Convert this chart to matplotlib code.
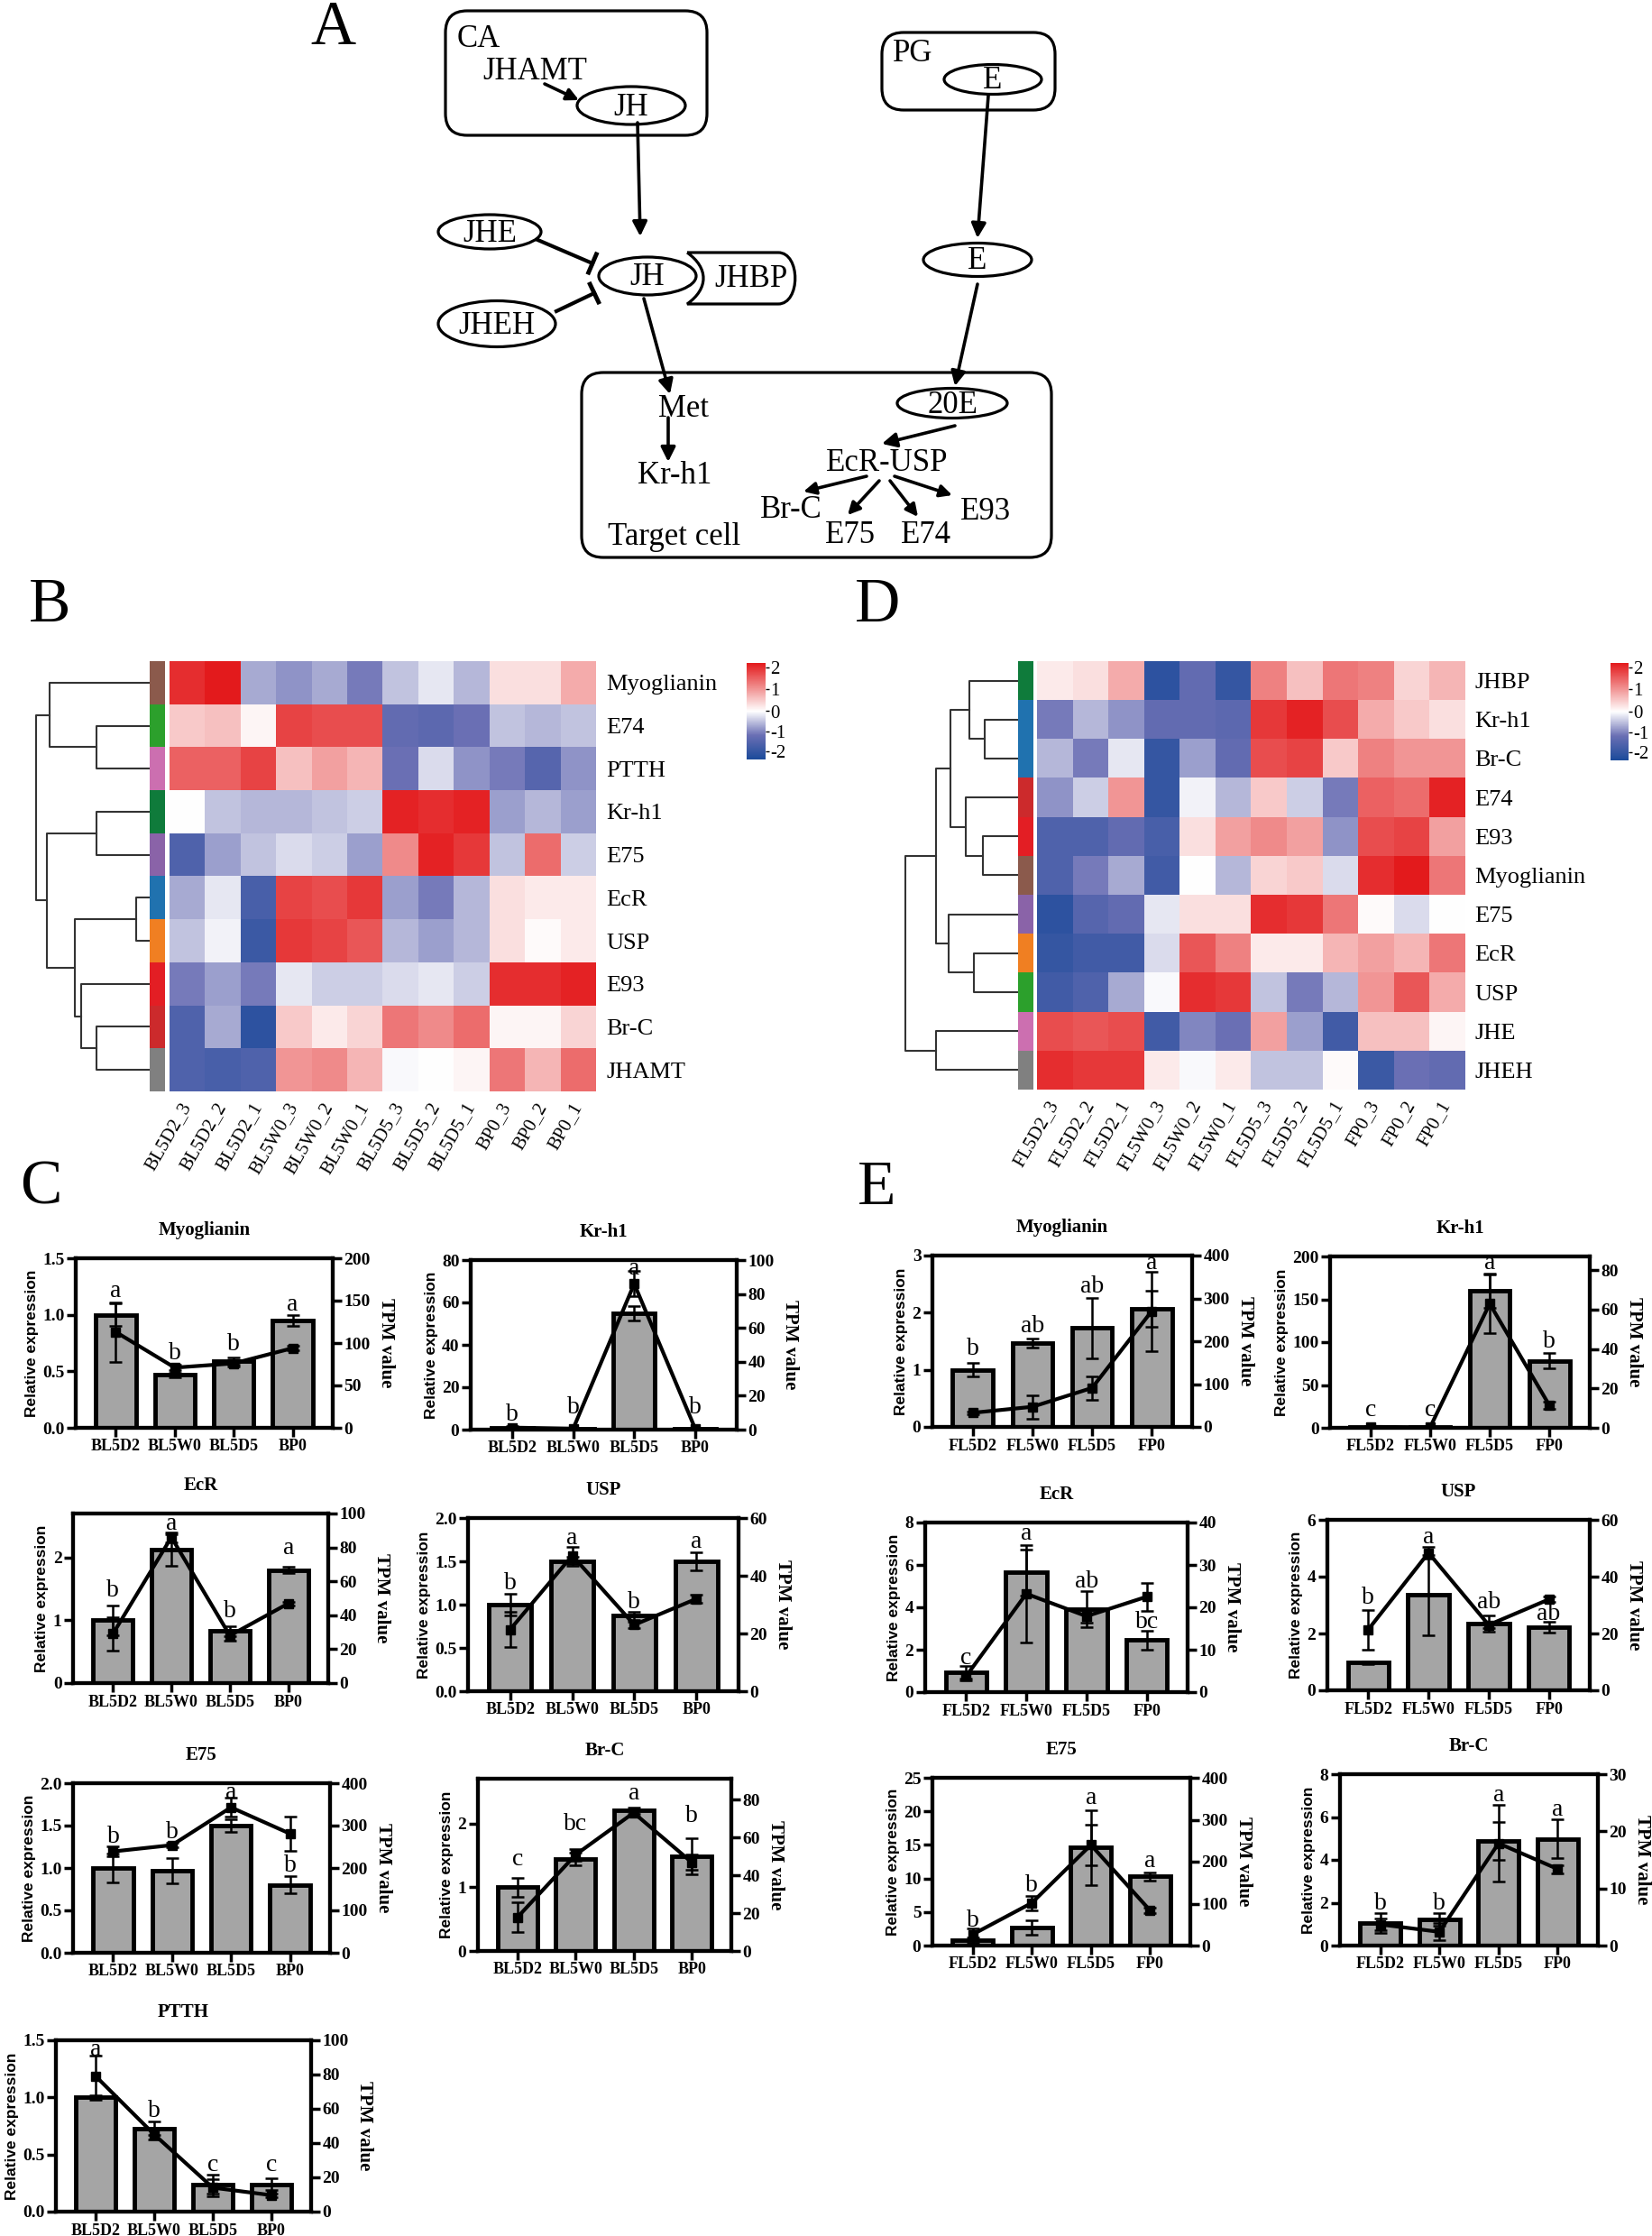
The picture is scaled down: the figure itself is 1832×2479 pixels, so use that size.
import numpy as np
import matplotlib
matplotlib.use('Agg')
import matplotlib.pyplot as plt
from matplotlib.patches import Ellipse, FancyBboxPatch, PathPatch
from matplotlib.path import Path
from matplotlib.colors import LinearSegmentedColormap, TwoSlopeNorm

W, H = 1832, 2479
SERIF = 'Liberation Serif'
SANS = 'Liberation Sans'
plt.rcParams['font.family'] = [SERIF, 'DejaVu Serif']

#############################################################################################
# heatmap B (z-scores)
b_genes = ['Myoglianin', 'E74', 'PTTH', 'Kr-h1', 'E75', 'EcR', 'USP', 'E93', 'Br-C', 'JHAMT']
b_samples = ['BL5D2_3', 'BL5D2_2', 'BL5D2_1', 'BL5W0_3', 'BL5W0_2', 'BL5W0_1',
             'BL5D5_3', 'BL5D5_2', 'BL5D5_1', 'BP0_3', 'BP0_2', 'BP0_1']
b_z = [[2.0, 2.2, -0.7, -0.9, -0.7, -1.1, -0.5, -0.2, -0.6, 0.3, 0.3, 0.8],
       [0.5, 0.6, 0.1, 1.8, 1.7, 1.7, -1.3, -1.4, -1.2, -0.5, -0.6, -0.5],
       [1.5, 1.5, 1.8, 0.6, 0.9, 0.7, -1.2, -0.3, -0.9, -1.1, -1.5, -0.9],
       [0.0, -0.5, -0.6, -0.6, -0.5, -0.4, 2.1, 2.0, 2.1, -0.8, -0.6, -0.8],
       [-1.6, -0.8, -0.5, -0.3, -0.4, -0.8, 1.1, 2.1, 1.9, -0.5, 1.4, -0.4],
       [-0.7, -0.2, -1.7, 1.8, 1.7, 1.9, -0.8, -1.1, -0.6, 0.3, 0.2, 0.2],
       [-0.5, -0.1, -1.9, 1.9, 1.8, 1.6, -0.6, -0.8, -0.6, 0.3, 0.05, 0.2],
       [-1.1, -0.8, -1.1, -0.2, -0.4, -0.4, -0.3, -0.2, -0.4, 2.0, 2.0, 2.1],
       [-1.6, -0.7, -2.1, 0.5, 0.2, 0.4, 1.3, 1.1, 1.4, 0.1, 0.1, 0.4],
       [-1.6, -1.7, -1.6, 1.0, 1.1, 0.7, -0.05, 0.0, 0.1, 1.3, 0.7, 1.4]]
b_row_colors = ['#8b5a4c', '#2ca02c', '#cc6fb0', '#0f7b3b', '#8a63a8',
                '#2072af', '#f07f22', '#e31e24', '#cc2a2c', '#808080']
# (height, left, right), leaves are row indices
b_tree = (231, (203, 0, (108, 1, 2)), (208, (108, 3, 4), (151, (28, 5, 6), (138, 7, (108, 8, 9)))))

# heatmap D
d_genes = ['JHBP', 'Kr-h1', 'Br-C', 'E74', 'E93', 'Myoglianin', 'E75', 'EcR', 'USP', 'JHE', 'JHEH']
d_samples = ['FL5D2_3', 'FL5D2_2', 'FL5D2_1', 'FL5W0_3', 'FL5W0_2', 'FL5W0_1',
             'FL5D5_3', 'FL5D5_2', 'FL5D5_1', 'FP0_3', 'FP0_2', 'FP0_1']
d_z = [[0.2, 0.3, 0.8, -2.1, -1.3, -2.0, 1.2, 0.6, 1.3, 1.2, 0.4, 0.7],
       [-1.1, -0.6, -0.9, -1.3, -1.3, -1.4, 1.9, 2.1, 1.7, 0.8, 0.5, 0.3],
       [-0.6, -1.1, -0.2, -2.0, -0.8, -1.3, 1.7, 1.8, 0.5, 1.2, 1.0, 1.0],
       [-0.9, -0.4, 1.0, -2.0, -0.1, -0.6, 0.5, -0.4, -1.1, 1.5, 1.4, 2.1],
       [-1.6, -1.6, -1.3, -1.7, 0.3, 0.9, 1.1, 0.9, -0.9, 1.7, 1.8, 0.9],
       [-1.6, -1.1, -0.7, -1.8, 0.0, -0.6, 0.4, 0.5, -0.3, 2.0, 2.2, 1.3],
       [-2.1, -1.5, -1.3, -0.2, 0.3, 0.3, 2.0, 1.9, 1.3, 0.05, -0.3, 0.0],
       [-2.0, -1.8, -1.8, -0.3, 1.6, 1.2, 0.2, 0.2, 0.7, 0.9, 0.7, 1.3],
       [-1.8, -1.6, -0.7, -0.05, 2.0, 1.9, -0.5, -1.1, -0.6, 1.0, 1.6, 0.8],
       [1.7, 1.6, 1.7, -1.8, -1.0, -1.2, 0.9, -0.8, -1.8, 0.6, 0.6, 0.1],
       [2.0, 1.9, 1.9, 0.2, -0.05, 0.2, -0.5, -0.5, 0.05, -1.9, -1.2, -1.3]]
d_row_colors = ['#0f7b3b', '#2072af', '#2072af', '#cc2a2c', '#e31e24', '#8b5a4c',
                '#8a63a8', '#f07f22', '#2ca02c', '#cc6fb0', '#808080']
d_tree = (221, (160, (133, (96, 0, (65, 1, 2)), (103, 3, (68, 4, 5))), (135, 6, (86, 7, 8))), (160, 9, 10))

cbar_ticks = ['-2', '-1', '0', '1', '2']

#############################################################################################
# qPCR / TPM panels C (B-strain)
c_cats = ['BL5D2', 'BL5W0', 'BL5D5', 'BP0']
c_genes = ['Myoglianin', 'Kr-h1', 'EcR', 'USP', 'E75', 'Br-C', 'PTTH']
c_rel = [[1.0, 0.47, 0.59, 0.95],
         [1.0, 0.5, 55.0, 0.3],
         [1.0, 2.12, 0.83, 1.8],
         [1.0, 1.5, 0.87, 1.5],
         [1.0, 0.97, 1.5, 0.8],
         [1.0, 1.44, 2.2, 1.48],
         [1.0, 0.73, 0.24, 0.24]]
c_rel_err = [[0.1, 0.02, 0.03, 0.05],
             [0.8, 0.3, 3.5, 0.2],
             [0.24, 0.25, 0.08, 0.05],
             [0.12, 0.05, 0.05, 0.1],
             [0.17, 0.15, 0.07, 0.1],
             [0.15, 0.1, 0.05, 0.28],
             [0.02, 0.06, 0.08, 0.05]]
c_tpm = [[113, 71, 76, 94],
         [1.2, 0.6, 86, 0.5],
         [29, 86, 28, 47],
         [21.4, 47, 23, 32],
         [239, 254, 343, 281],
         [17.8, 50.8, 73, 46.8],
         [79, 45, 14, 9.6]]
c_tpm_err = [[35, 3, 4, 3],
             [0.5, 0.3, 7.5, 0.2],
             [10, 3, 3, 1],
             [6, 3, 1, 1.5],
             [12, 5, 22, 40],
             [8, 3, 2, 4],
             [12, 3, 5, 1]]
c_letters = [['a', 'b', 'b', 'a'], ['b', 'b', 'a', 'b'], ['b', 'a', 'b', 'a'], ['b', 'a', 'b', 'a'],
             ['b', 'b', 'a', 'b'], ['c', 'bc', 'a', 'b'], ['a', 'b', 'c', 'c']]
c_letter_y = [[1.21, 0.66, 0.74, 1.09],
              [7.1, 10.6, 76, 10.6],
              [1.47, 2.53, 1.14, 2.14],
              [1.25, 1.77, 1.03, 1.72],
              [1.37, 1.42, 1.89, 1.03],
              [1.44, 1.98, 2.47, 2.12],
              [1.42, 0.88, 0.41, 0.41]]
c_rel_ticks = [['0.0', '0.5', '1.0', '1.5'], ['0', '20', '40', '60', '80'], ['0', '1', '2'],
               ['0.0', '0.5', '1.0', '1.5', '2.0'], ['0.0', '0.5', '1.0', '1.5', '2.0'],
               ['0', '1', '2'], ['0.0', '0.5', '1.0', '1.5']]
c_rel_top = [1.5, 80, 2.7, 2.0, 2.0, 2.7, 1.5]
c_tpm_ticks = [['0', '50', '100', '150', '200'], ['0', '20', '40', '60', '80', '100'],
               ['0', '20', '40', '60', '80', '100'], ['0', '20', '40', '60'],
               ['0', '100', '200', '300', '400'], ['0', '20', '40', '60', '80'],
               ['0', '20', '40', '60', '80', '100']]
c_tpm_top = [200, 100, 100, 60, 400, 91, 100]

# panels E (F-strain)
e_cats = ['FL5D2', 'FL5W0', 'FL5D5', 'FP0']
e_genes = ['Myoglianin', 'Kr-h1', 'EcR', 'USP', 'E75', 'Br-C']
e_rel = [[1.0, 1.47, 1.73, 2.07],
         [1.2, 1.0, 160, 78],
         [0.95, 5.64, 3.9, 2.45],
         [0.98, 3.35, 2.35, 2.22],
         [0.76, 2.68, 14.6, 10.3],
         [1.05, 1.23, 4.87, 4.98]]
e_rel_err = [[0.12, 0.08, 0.53, 0.32],
             [0.8, 0.3, 20, 9],
             [0.3, 1.1, 0.85, 0.45],
             [0.05, 1.4, 0.3, 0.2],
             [0.4, 1.1, 5.6, 0.6],
             [0.45, 0.3, 0.88, 0.9]]
e_tpm = [[33, 47, 91, 270],
         [0.5, 0.3, 63, 11.5],
         [3.75, 23.2, 17.9, 22.5],
         [21.4, 48.4, 23, 32],
         [26.5, 101.6, 240, 83.7],
         [3.7, 2.4, 17.9, 13.4]]
e_tpm_err = [[3, 27, 27, 93],
             [0.2, 0.1, 15, 2],
             [1, 11.5, 1.5, 3.3],
             [7, 2, 1, 1],
             [14, 17, 49, 6],
             [1, 1.5, 6.7, 0.7]]
e_letters = [['b', 'ab', 'ab', 'a'], ['c', 'c', 'a', 'b'], ['c', 'a', 'ab', 'bc'],
             ['b', 'a', 'ab', 'ab'], ['b', 'b', 'a', 'a'], ['b', 'b', 'a', 'a']]
e_letter_y = [[1.37, 1.76, 2.45, 2.87],
              [20, 20, 192, 101],
              [1.6, 7.48, 5.2, 3.3],
              [3.25, 5.37, 3.09, 2.67],
              [3.7, 9.0, 22, 12.6],
              [1.96, 1.96, 7.0, 6.34]]
e_rel_ticks = [['0', '1', '2', '3'], ['0', '50', '100', '150', '200'], ['0', '2', '4', '6', '8'],
               ['0', '2', '4', '6'], ['0', '5', '10', '15', '20', '25'], ['0', '2', '4', '6', '8']]
e_rel_top = [3, 200, 8, 6, 25, 8]
e_tpm_ticks = [['0', '100', '200', '300', '400'], ['0', '20', '40', '60', '80'],
               ['0', '10', '20', '30', '40'], ['0', '20', '40', '60'],
               ['0', '100', '200', '300', '400'], ['0', '10', '20', '30']]
e_tpm_top = [400, 87, 40, 60, 400, 30]

#############################################################################################
# layout (pixel boxes: left, top, right, bottom)
c_boxes = [(84, 1395, 369, 1583), (522, 1397, 817, 1585), (81, 1678, 364, 1866), (519, 1683, 819, 1875),
           (81, 1977, 366, 2165), (530, 1972, 811, 2163), (62, 2262, 345, 2452)]
e_boxes = [(1034, 1392, 1322, 1582), (1475, 1393, 1763, 1583), (1026, 1688, 1317, 1876),
           (1472, 1685, 1763, 1874), (1034, 1971, 1320, 2157), (1486, 1967, 1772, 2157)]


def px_rect(l, t, r, b):
    return [l / W, 1 - b / H, (r - l) / W, (b - t) / H]


fig = plt.figure(figsize=(W / 100, H / 100), dpi=100)
ax0 = fig.add_axes([0, 0, 1, 1])
ax0.set_xlim(0, W)
ax0.set_ylim(H, 0)
ax0.axis('off')

#############################################################################################
# panel A : pathway sketch
LW = 2.3
FS = 25


def rbox(x0, y0, x1, y1):
    ax0.add_patch(FancyBboxPatch((x0, y0), x1 - x0, y1 - y0, boxstyle='round,pad=0,rounding_size=24',
                                 fc='none', ec='k', lw=LW))


def oval(cx, cy, w, h, label):
    ax0.add_patch(Ellipse((cx, cy), w, h, fc='white', ec='k', lw=LW, zorder=3))
    ax0.text(cx, cy + 2, label, ha='center', va='center', fontsize=FS, zorder=4)


def arrow(p0, p1, ms=24):
    ax0.annotate('', xy=p1, xytext=p0, xycoords='data',
                 arrowprops=dict(arrowstyle='-|>', color='k', lw=2.6, mutation_scale=ms,
                                 shrinkA=0, shrinkB=0))


def inhibit(p0, p1, half=11):
    d = np.array(p1, float) - np.array(p0, float)
    d = d / np.hypot(*d)
    n = np.array([-d[1], d[0]])
    ax0.plot([p0[0], p1[0]], [p0[1], p1[1]], color='k', lw=3)
    ax0.plot([p1[0] - n[0] * half, p1[0] + n[0] * half], [p1[1] - n[1] * half, p1[1] + n[1] * half],
             color='k', lw=3.5)


rbox(494, 12, 784, 150)
ax0.text(507, 44, 'CA', ha='left', va='center', fontsize=FS)
ax0.text(593, 80, 'JHAMT', ha='center', va='center', fontsize=FS)
oval(700, 117, 120, 42, 'JH')
arrow((604, 93), (642, 111), ms=20)
arrow((707, 136), (710, 262))

rbox(978, 36, 1170, 122)
ax0.text(990, 59, 'PG', ha='left', va='center', fontsize=FS)
oval(1101, 88, 108, 33, 'E')
arrow((1096, 106), (1084, 264))
oval(1084, 288, 120, 37, 'E')

oval(543, 257, 114, 38, 'JHE')
oval(551, 359, 130, 51, 'JHEH')
jhbp = Path([(762, 280), (863, 280), (888, 280), (888, 337), (863, 337), (762, 337),
             (786, 320), (786, 297), (762, 280)],
            [Path.MOVETO, Path.LINETO, Path.CURVE4, Path.CURVE4, Path.CURVE4, Path.LINETO,
             Path.CURVE4, Path.CURVE4, Path.CURVE4])
ax0.add_patch(PathPatch(jhbp, fc='white', ec='k', lw=LW, zorder=2))
ax0.text(833, 309, 'JHBP', ha='center', va='center', fontsize=FS, zorder=4)
oval(718, 306, 108, 42, 'JH')
inhibit((594, 265), (657, 292))
inhibit((617, 345), (659, 325))

arrow((714, 331), (743, 437))
arrow((1084, 315), (1059, 428))

rbox(645, 413, 1166, 618)
ax0.text(758, 454, 'Met', ha='center', va='center', fontsize=FS)
arrow((741, 463), (741, 512))
ax0.text(748, 528, 'Kr-h1', ha='center', va='center', fontsize=FS)
oval(1056, 447, 122, 33, '20E')
arrow((1059, 472), (978, 492))
ax0.text(984, 513, 'EcR-USP', ha='center', va='center', fontsize=FS)
arrow((961, 528), (891, 545), ms=20)
arrow((975, 533), (940, 571), ms=20)
arrow((987, 533), (1018, 573), ms=20)
arrow((992, 528), (1056, 549), ms=20)
ax0.text(877, 565, 'Br-C', ha='center', va='center', fontsize=FS)
ax0.text(943, 593, 'E75', ha='center', va='center', fontsize=FS)
ax0.text(1027, 593, 'E74', ha='center', va='center', fontsize=FS)
ax0.text(1093, 567, 'E93', ha='center', va='center', fontsize=FS)
ax0.text(748, 596, 'Target cell', ha='center', va='center', fontsize=FS)

# panel letters
for s, (px, py) in zip('ABCDE', [(369, 32), (55, 672), (45, 1318), (973, 672), (972, 1318)]):
    ax0.text(px, py, s, ha='center', va='center', fontsize=50)

#############################################################################################
# heatmaps
cmap = LinearSegmentedColormap.from_list('hm', [(0, '#1b4a9a'), (0.25, '#6a6fb4'), (0.5, '#ffffff'),
                                               (0.75, '#f08c8c'), (1, '#e31a1c')])
norm = TwoSlopeNorm(vcenter=0, vmin=-2.4, vmax=2.2)


def draw_tree(ax, node):
    if isinstance(node, int):
        return node, 0
    h, left, right = node
    yl, hl = draw_tree(ax, left)
    yr, hr = draw_tree(ax, right)
    ax.plot([hl, h, h, hr], [yl, yl, yr, yr], color='#333333', lw=1.5)
    return (yl + yr) / 2, h


def heatmap(z, genes, samples, colors, tree, hm_box, strip_box, tree_box, cbar_box):
    n = len(genes)
    ax = fig.add_axes(px_rect(*hm_box))
    im = ax.imshow(np.array(z), cmap=cmap, norm=norm, aspect='auto', interpolation='nearest')
    ax.yaxis.tick_right()
    ax.set_yticks(range(n), genes, fontsize=19)
    ax.set_xticks(range(len(samples)), samples, fontsize=15, rotation=60, ha='right',
                  va='center', rotation_mode='anchor')
    ax.tick_params(length=0, pad=8)
    ax.tick_params(axis='x', pad=10)
    for sp in ax.spines.values():
        sp.set_visible(False)

    axs = fig.add_axes(px_rect(*strip_box))
    axs.imshow(np.array([[matplotlib.colors.to_rgb(c)] for c in colors]), aspect='auto',
               interpolation='nearest')
    axs.axis('off')

    axt = fig.add_axes(px_rect(*tree_box))
    draw_tree(axt, tree)
    axt.set_xlim(tree[0] + 1, 0)
    axt.set_ylim(n - 0.5, -0.5)
    axt.axis('off')

    cax = fig.add_axes(px_rect(*cbar_box))
    cb = fig.colorbar(im, cax=cax, ticks=[float(t) for t in cbar_ticks])
    cb.set_ticklabels(cbar_ticks)
    cb.outline.set_visible(False)
    cax.tick_params(labelsize=15, length=3, width=1, pad=1)


heatmap(b_z, b_genes, b_samples, b_row_colors, b_tree,
        (188, 733, 661, 1210), (166, 733, 183, 1210), (39, 733, 166, 1210), (828, 735, 849, 842))
heatmap(d_z, d_genes, d_samples, d_row_colors, d_tree,
        (1150, 733, 1624, 1208), (1129, 733, 1146, 1208), (1003, 733, 1129, 1208), (1786, 735, 1806, 843))

#############################################################################################
# bar + line panels


def bar_panel(box, title, cats, rel, rel_err, tpm, tpm_err, letters, letter_y,
              rel_ticks, rel_top, tpm_ticks, tpm_top):
    ax = fig.add_axes(px_rect(*box))
    x = np.arange(len(cats))
    ax.bar(x, rel, width=0.68, color='#a5a5a5', edgecolor='k', linewidth=3.5, zorder=2)
    ax.errorbar(x, rel, yerr=rel_err, fmt='none', ecolor='k', elinewidth=1.8, capsize=5,
                capthick=1.8, zorder=3)
    for xi, s, yy in zip(x, letters, letter_y):
        ax.text(xi, yy, s, ha='center', va='center', fontsize=20, zorder=4, clip_on=False)
    ax.set_xlim(-0.68, len(cats) - 1 + 0.68)
    ax.set_ylim(0, rel_top)
    ax.set_yticks([float(t) for t in rel_ticks], rel_ticks, fontweight='bold', fontsize=14)
    ax.set_xticks(x, cats, fontweight='bold', fontsize=13)
    ax.set_title(title, fontweight='bold', fontsize=15, pad=19)
    ax.set_ylabel('Relative expression', fontfamily=SANS, fontweight='bold', fontsize=12.5, labelpad=3)

    ax2 = ax.twinx()
    ax2.errorbar(x, tpm, yerr=tpm_err, color='k', lw=3, marker='s', ms=7, capsize=5,
                 elinewidth=1.8, capthick=1.8, zorder=3)
    ax2.set_ylim(0, tpm_top)
    ax2.set_yticks([float(t) for t in tpm_ticks], tpm_ticks, fontweight='bold', fontsize=14)
    ax2.set_ylabel('TPM value', rotation=270, va='bottom', fontweight='bold', fontsize=15, labelpad=5)
    for a in (ax, ax2):
        for sp in a.spines.values():
            sp.set_linewidth(3)
        a.tick_params(direction='out', width=2.5, length=7, pad=2)


for i, g in enumerate(c_genes):
    bar_panel(c_boxes[i], g, c_cats, c_rel[i], c_rel_err[i], c_tpm[i], c_tpm_err[i],
              c_letters[i], c_letter_y[i], c_rel_ticks[i], c_rel_top[i], c_tpm_ticks[i], c_tpm_top[i])

for i, g in enumerate(e_genes):
    bar_panel(e_boxes[i], g, e_cats, e_rel[i], e_rel_err[i], e_tpm[i], e_tpm_err[i],
              e_letters[i], e_letter_y[i], e_rel_ticks[i], e_rel_top[i], e_tpm_ticks[i], e_tpm_top[i])

fig.savefig('out.png', dpi=100)
